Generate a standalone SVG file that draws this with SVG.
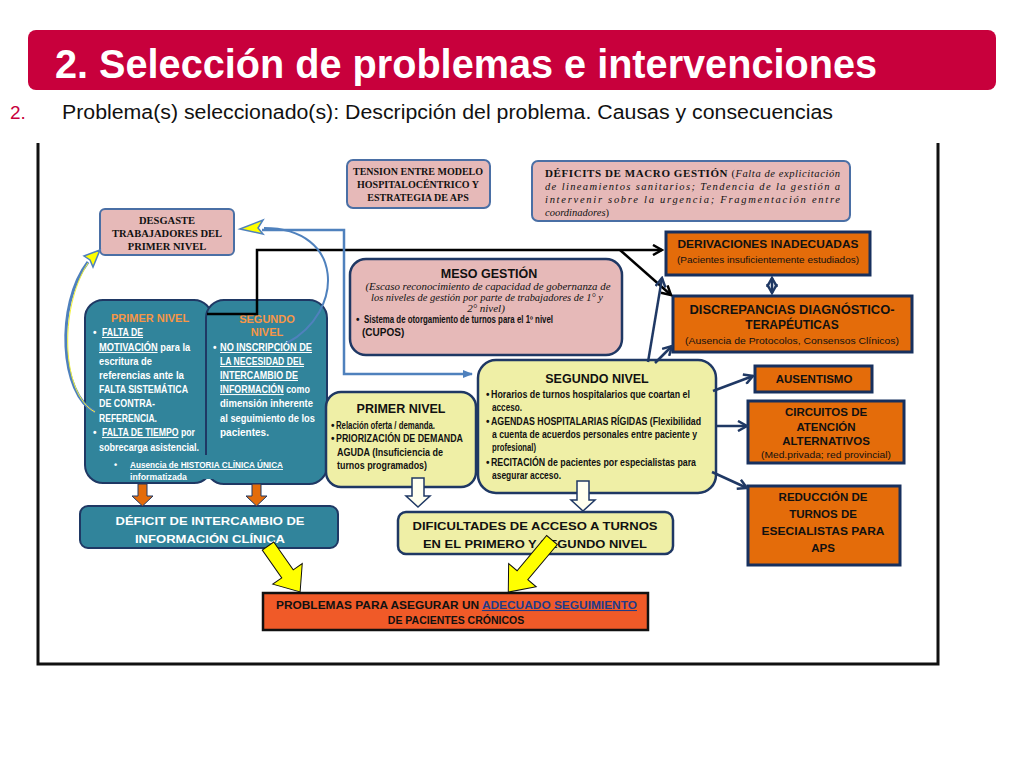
<svg xmlns="http://www.w3.org/2000/svg" width="1024" height="768" viewBox="0 0 1024 768">
<style>
.sans{font-family:"Liberation Sans",Arial,sans-serif}
.serif{font-family:"Liberation Serif","Times New Roman",serif}
.b{font-weight:bold}
.i{font-style:italic}
.pink{fill:#E6B9B8;stroke:#4A6FA5;stroke-width:2}
.pinkN{fill:#E6B9B8;stroke:#1F3864;stroke-width:2.5}
.teal{fill:#31849B;stroke:#1F3864;stroke-width:2}
.yel{fill:#EFEFA6;stroke:#1F3864;stroke-width:2.5}
.org{fill:#E46C0A;stroke:#17305E;stroke-width:3}
.wt{fill:#FFFFFF}
.ot{fill:#F79646}
.dk{fill:#111111}
.nav{fill:none;stroke:#1F3864;stroke-width:2.5}
.u{text-decoration:underline}
</style>
<defs>
<marker id="mN" viewBox="0 0 12 12" refX="10" refY="6" markerWidth="12" markerHeight="12" markerUnits="userSpaceOnUse" orient="auto-start-reverse"><path d="M1,1 L10,6 L1,11" fill="none" stroke="#1F3864" stroke-width="2.5"/></marker>
<marker id="mK" viewBox="0 0 12 12" refX="10" refY="6" markerWidth="12" markerHeight="12" markerUnits="userSpaceOnUse" orient="auto"><path d="M1,1 L10,6 L1,11" fill="none" stroke="#000" stroke-width="2.5"/></marker>
<marker id="mB" viewBox="0 0 10 10" refX="9" refY="5" markerWidth="10" markerHeight="10" markerUnits="userSpaceOnUse" orient="auto"><path d="M0,1 L10,5 L0,9 Z" fill="#4F81BD"/></marker>
</defs>

<rect width="1024" height="768" fill="#FFFFFF"/>

<g id="title">
<rect x="28" y="30" width="968" height="60" rx="8" fill="#C8003C"/>
<text x="55" y="78" class="sans b" font-size="40" fill="#FFFFFF" textLength="822" lengthAdjust="spacingAndGlyphs">2. Selección de problemas e intervenciones</text>
</g>
<g id="subtitle">
<text x="10" y="119" class="sans" font-size="19" fill="#C8003C">2.</text>
<text x="62" y="119" class="sans" font-size="20" fill="#111" textLength="771" lengthAdjust="spacingAndGlyphs">Problema(s) seleccionado(s): Descripción del problema. Causas y consecuencias</text>
</g>

<path id="frame" d="M38,143 V664 H938 V143" fill="none" stroke="#111" stroke-width="3"/>

<g id="desgaste">
<rect x="100" y="209" width="134" height="46" rx="5" class="pink"/>
<text class="serif b dk" font-size="10.5" text-anchor="middle"><tspan x="167" y="224">DESGASTE</tspan><tspan x="167" y="237">TRABAJADORES DEL</tspan><tspan x="167" y="250">PRIMER NIVEL</tspan></text>
</g>

<g id="tension">
<rect x="347" y="160" width="143" height="48" rx="6" class="pink"/>
<text class="serif b dk" font-size="10" text-anchor="middle"><tspan x="418" y="175">TENSION ENTRE MODELO</tspan><tspan x="418" y="188">HOSPITALOCÉNTRICO Y</tspan><tspan x="418" y="201">ESTRATEGIA DE APS</tspan></text>
</g>

<g id="macro">
<rect x="532" y="161" width="318" height="60" rx="6" class="pink"/>
<text class="serif dk" font-size="10.5" x="545" y="177" textLength="295" lengthAdjust="spacing"><tspan class="b" font-size="11">DÉFICITS DE MACRO GESTIÓN </tspan>(<tspan class="i">Falta de explicitación</tspan></text>
<text class="serif i dk" font-size="10.5" x="545" y="190" textLength="295" lengthAdjust="spacing">de lineamientos sanitarios; Tendencia de la gestión a</text>
<text class="serif i dk" font-size="10.5" x="545" y="203" textLength="295" lengthAdjust="spacing">intervenir sobre la urgencia; Fragmentación entre</text>
<text class="serif dk" font-size="10.5" x="545" y="216"><tspan class="i">coordinadores</tspan>)</text>
</g>

<g id="derivaciones">
<rect x="666" y="232" width="204" height="43" class="org"/>
<text class="sans b dk" font-size="11.5" x="768" y="248" text-anchor="middle" textLength="181" lengthAdjust="spacingAndGlyphs">DERIVACIONES INADECUADAS</text>
<text class="sans dk" font-size="9" x="768" y="263" text-anchor="middle" textLength="182" lengthAdjust="spacingAndGlyphs">(Pacientes insuficientemente estudiados)</text>
</g>

<g id="discrepancias">
<rect x="673" y="296" width="239" height="56" class="org"/>
<text class="sans b dk" font-size="12" x="792" y="314" text-anchor="middle" textLength="205" lengthAdjust="spacingAndGlyphs">DISCREPANCIAS DIAGNÓSTICO-</text>
<text class="sans b dk" font-size="12" x="792" y="329" text-anchor="middle">TERAPÉUTICAS</text>
<text class="sans dk" font-size="9.5" x="792" y="344" text-anchor="middle" textLength="214" lengthAdjust="spacingAndGlyphs">(Ausencia de Protocolos, Consensos Clínicos)</text>
</g>

<g id="meso">
<rect x="350" y="259" width="272" height="96" rx="16" class="pinkN"/>
<text class="sans b dk" font-size="12.5" x="489" y="278" text-anchor="middle">MESO GESTIÓN</text>
<text class="serif i dk" font-size="11" x="488" y="290" text-anchor="middle" textLength="245" lengthAdjust="spacingAndGlyphs">(Escaso reconocimiento  de capacidad de gobernanza de</text>
<text class="serif i dk" font-size="11" x="487" y="301" text-anchor="middle" textLength="232" lengthAdjust="spacingAndGlyphs">los niveles de gestión por parte de trabajadores de 1° y</text>
<text class="serif i dk" font-size="11" x="486" y="312" text-anchor="middle">2° nivel)</text>
<text class="sans b dk" font-size="10" x="356" y="323">•</text>
<text class="sans b dk" font-size="10" x="364" y="323" textLength="189" lengthAdjust="spacingAndGlyphs">Sistema de otorgamiento de turnos para el 1º nivel</text>
<text class="sans b dk" font-size="10" x="362" y="336">(CUPOS)</text>
</g>

<g id="primer-nivel-teal">
<rect x="85" y="300" width="127" height="183" rx="18" class="teal"/>
<rect x="206" y="300" width="121" height="184" rx="18" class="teal"/>
<rect x="150" y="455" width="150" height="24" fill="#31849B"/>
<text class="sans b ot" font-size="11" x="150" y="322" text-anchor="middle">PRIMER NIVEL</text>
<g class="sans b wt" font-size="10">
<text x="93" y="336">•</text>
<text x="102" y="336" class="u" textLength="41" lengthAdjust="spacingAndGlyphs">FALTA DE</text>
<text transform="translate(99,351) scale(0.93,1)"><tspan class="u">MOTIVACIÓN</tspan> para la</text>
<text x="99" y="365" textLength="53" lengthAdjust="spacingAndGlyphs">escritura de</text>
<text x="99" y="379" textLength="85" lengthAdjust="spacingAndGlyphs">referencias  ante la</text>
<text x="99" y="393" textLength="89" lengthAdjust="spacingAndGlyphs">FALTA SISTEMÁTICA</text>
<text x="99" y="407" textLength="56" lengthAdjust="spacingAndGlyphs">DE CONTRA-</text>
<text x="99" y="422" textLength="58" lengthAdjust="spacingAndGlyphs">REFERENCIA.</text>
<text x="93" y="436">•</text>
<text transform="translate(102,436) scale(0.87,1)"><tspan class="u">FALTA DE TIEMPO</tspan> por</text>
<text x="99" y="451" textLength="100" lengthAdjust="spacingAndGlyphs">sobrecarga asistencial.</text>
</g>
<g class="sans b wt" font-size="9">
<text x="114" y="468">•</text>
<text x="130" y="468" textLength="153" lengthAdjust="spacingAndGlyphs" class="u">Ausencia de HISTORIA CLÍNICA ÚNICA</text>
<text x="130" y="480" textLength="57" lengthAdjust="spacingAndGlyphs">informatizada</text>
</g>
</g>

<g id="segundo-nivel-teal">
<text class="sans b ot" font-size="11" text-anchor="middle"><tspan x="267" y="323">SEGUNDO</tspan><tspan x="267" y="336">NIVEL</tspan></text>
<g class="sans b wt" font-size="10">
<text x="213" y="351">•</text>
<text x="220" y="351" class="u" textLength="92" lengthAdjust="spacingAndGlyphs">NO INSCRIPCIÓN DE</text>
<text x="220" y="365" class="u" textLength="84" lengthAdjust="spacingAndGlyphs">LA NECESIDAD DEL</text>
<text x="220" y="379" class="u" textLength="78" lengthAdjust="spacingAndGlyphs">INTERCAMBIO DE</text>
<text transform="translate(220,393) scale(0.89,1)"><tspan class="u">INFORMACIÓN</tspan> como</text>
<text x="220" y="407" textLength="93" lengthAdjust="spacingAndGlyphs">dimensión inherente</text>
<text x="220" y="422" textLength="95" lengthAdjust="spacingAndGlyphs">al seguimiento de los</text>
<text x="220" y="436">pacientes.</text>
</g>
</g>

<g id="deficit-intercambio">
<rect x="80" y="506" width="258" height="42" rx="8" class="teal"/>
<text class="sans b wt" font-size="11" text-anchor="middle"><tspan x="210" y="525" textLength="189" lengthAdjust="spacingAndGlyphs">DÉFICIT DE INTERCAMBIO DE</tspan><tspan x="210" y="543" textLength="150" lengthAdjust="spacingAndGlyphs">INFORMACIÓN CLÍNICA</tspan></text>
</g>

<g id="primer-nivel-yellow">
<rect x="326" y="392" width="150" height="95" rx="15" class="yel"/>
<text class="sans b dk" font-size="12.5" x="401" y="413" text-anchor="middle">PRIMER NIVEL</text>
<g class="sans b dk" font-size="10">
<text x="331" y="429">•</text>
<text x="336" y="429" textLength="99" lengthAdjust="spacingAndGlyphs">Relación oferta / demanda.</text>
<text x="331" y="442">•</text>
<text x="336" y="442" textLength="127" lengthAdjust="spacingAndGlyphs">PRIORIZACIÓN DE DEMANDA</text>
<text x="337" y="456" textLength="106" lengthAdjust="spacingAndGlyphs">AGUDA (Insuficiencia de</text>
<text x="337" y="469" textLength="90" lengthAdjust="spacingAndGlyphs">turnos programados)</text>
</g>
</g>

<g id="segundo-nivel-yellow">
<rect x="478" y="360" width="238" height="133" rx="18" class="yel"/>
<text class="sans b dk" font-size="12.5" x="597" y="383" text-anchor="middle">SEGUNDO NIVEL</text>
<g class="sans b dk" font-size="10">
<text x="486" y="398">•</text>
<text x="491" y="398" textLength="199" lengthAdjust="spacingAndGlyphs">Horarios de turnos hospitalarios que coartan el</text>
<text x="492" y="411" textLength="30" lengthAdjust="spacingAndGlyphs">acceso.</text>
<text x="486" y="425">•</text>
<text x="491" y="425" textLength="210" lengthAdjust="spacingAndGlyphs">AGENDAS HOSPITALARIAS RÍGIDAS (Flexibilidad</text>
<text x="492" y="438" textLength="205" lengthAdjust="spacingAndGlyphs">a cuenta de acuerdos personales entre paciente y</text>
<text x="492" y="451" textLength="44" lengthAdjust="spacingAndGlyphs">profesional)</text>
<text x="486" y="466">•</text>
<text x="491" y="466" textLength="205" lengthAdjust="spacingAndGlyphs">RECITACIÓN de pacientes por especialistas para</text>
<text x="492" y="479" textLength="69" lengthAdjust="spacingAndGlyphs">asegurar acceso.</text>
</g>
</g>

<g id="dificultades">
<rect x="398" y="512" width="275" height="42" rx="8" class="yel"/>
<text class="sans b dk" font-size="11" text-anchor="middle"><tspan x="535" y="530" textLength="245" lengthAdjust="spacingAndGlyphs">DIFICULTADES DE ACCESO A TURNOS</tspan><tspan x="535" y="548" textLength="224" lengthAdjust="spacingAndGlyphs">EN EL PRIMERO Y SEGUNDO NIVEL</tspan></text>
</g>

<g id="problemas">
<rect x="263" y="593" width="385" height="37" fill="#F05A28" stroke="#111" stroke-width="2.5"/>
<text class="sans b dk" font-size="10.5" x="276" y="609" textLength="361" lengthAdjust="spacingAndGlyphs">PROBLEMAS PARA ASEGURAR UN <tspan class="u" fill="#1F3C88">ADECUADO SEGUIMIENTO</tspan></text>
<text class="sans b dk" font-size="10.5" x="456" y="624" text-anchor="middle">DE PACIENTES CRÓNICOS</text>
</g>

<g id="ausentismo">
<rect x="755" y="366" width="117" height="26" class="org"/>
<text class="sans b dk" font-size="11.5" x="814" y="383" text-anchor="middle">AUSENTISMO</text>
</g>

<g id="circuitos">
<rect x="748" y="401" width="156" height="62" class="org"/>
<text class="sans b dk" font-size="11.5" text-anchor="middle"><tspan x="826" y="416">CIRCUITOS DE</tspan><tspan x="826" y="431">ATENCIÓN</tspan><tspan x="826" y="445">ALTERNATIVOS</tspan></text>
<text class="sans dk" font-size="8.5" x="826" y="458" text-anchor="middle" textLength="130" lengthAdjust="spacingAndGlyphs">(Med.privada; red provincial)</text>
</g>

<g id="reduccion">
<rect x="748" y="486" width="152" height="79" class="org"/>
<text class="sans b dk" font-size="11.5" text-anchor="middle"><tspan x="823" y="501">REDUCCIÓN DE</tspan><tspan x="823" y="518">TURNOS DE</tspan><tspan x="823" y="535" textLength="123" lengthAdjust="spacingAndGlyphs">ESECIALISTAS PARA</tspan><tspan x="823" y="552">APS</tspan></text>
</g>

<g id="connectors">
<path d="M207,314 H257 V250 H662" fill="none" stroke="#000" stroke-width="2.5" marker-end="url(#mK)"/>
<path d="M620,250 L671,295" fill="none" stroke="#000" stroke-width="2.5" marker-end="url(#mK)"/>
<path d="M262,230 H344 V374 H472" fill="none" stroke="#4F81BD" stroke-width="2.5" marker-end="url(#mB)"/>
<path d="M264,228 C345,228 345,312 287,343" fill="none" stroke="#4F81BD" stroke-width="2"/>
<path d="M95,412 C60,395 55,305 88,262" fill="none" stroke="#4F81BD" stroke-width="3"/>
<path d="M95,412 C62,395 58,310 88,263" fill="none" stroke="#F2F23A" stroke-width="1"/>
<polygon points="240,229 263,220 258,228 263,234" fill="#FFFF00" stroke="#4F81BD" stroke-width="1.5"/>
<polygon points="100,250 84,256 90,260 93,267" fill="#FFFF00" stroke="#4F81BD" stroke-width="1.5"/>
<path d="M772,278 V293" class="nav" marker-start="url(#mN)" marker-end="url(#mN)"/>
<path d="M648,362 L662,278" class="nav" marker-end="url(#mN)"/>
<path d="M655,363 L672,346" class="nav" marker-end="url(#mN)"/>
<path d="M713,391 L753,376" class="nav" marker-end="url(#mN)"/>
<path d="M717,426 L747,426" class="nav" marker-end="url(#mN)"/>
<path d="M712,472 L747,488" class="nav" marker-end="url(#mN)"/>
<polygon points="138,484 147,484 147,496 153,496 142.5,506 132,496 138,496" fill="#E46C0A" stroke="#1F3864" stroke-width="1"/>
<polygon points="252,484 261,484 261,496 267,496 256.5,506 246,496 252,496" fill="#E46C0A" stroke="#1F3864" stroke-width="1"/>
<polygon points="412,478 424,478 424,496 430,496 418,507 406,496 412,496" fill="#FFFFF0" stroke="#1F3864" stroke-width="1.5"/>
<polygon points="577,481 589,481 589,500 595,500 583,511 571,500 577,500" fill="#FFFFF0" stroke="#1F3864" stroke-width="1.5"/>
<polygon points="0,-7 34,-7 34,-18 56,0 34,18 34,7 0,7" transform="translate(268,546) rotate(55)" fill="#FFFF00" stroke="#111" stroke-width="1"/>
<polygon points="0,-7 46,-7 46,-18 68,0 46,18 46,7 0,7" transform="translate(552,540) rotate(130)" fill="#FFFF00" stroke="#111" stroke-width="1"/>
</g>
</svg>
